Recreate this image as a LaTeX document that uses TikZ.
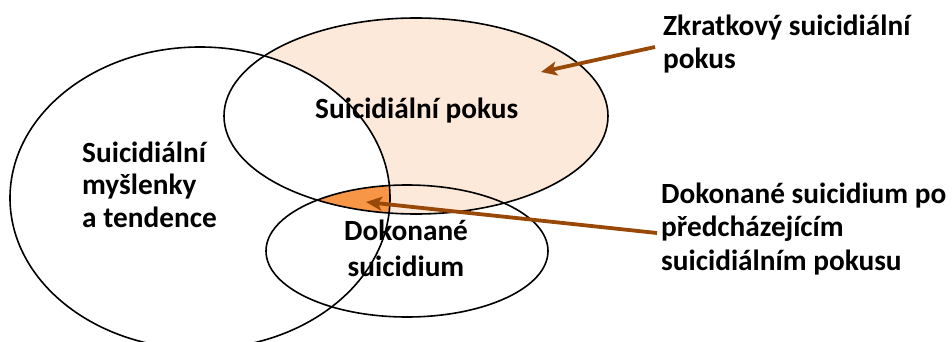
\documentclass[tikz,border=0pt]{standalone}
\usepackage{fontspec}
\setmainfont{Carlito}
\usetikzlibrary{arrows.meta}
\definecolor{peach}{RGB}{253,233,217}
\definecolor{orangefill}{RGB}{247,150,70}
\definecolor{brownarrow}{RGB}{152,72,7}
\tikzset{
  lbl/.style={font=\bfseries\fontsize{29.3}{33.3}\selectfont, inner sep=0pt, align=left, anchor=base west},
  outline/.style={draw=black, line width=1.6pt},
  pointer/.style={draw=brownarrow, line width=3.8pt, -{Stealth[length=16pt,width=14pt,inset=4pt]}}
}
\begin{document}
\begin{tikzpicture}[x=1pt,y=-1pt]
\useasboundingbox (0,0) rectangle (952,342);
% fills
\fill[peach] (416,116) ellipse [x radius=192, y radius=98];
\fill[white] (200,198) ellipse [x radius=190, y radius=151];
\begin{scope}
  \clip (416,116) ellipse [x radius=192, y radius=98];
  \clip (200,198) ellipse [x radius=190, y radius=151];
  \fill[orangefill] (407,251) ellipse [x radius=141, y radius=66];
\end{scope}
% outlines
\path[outline] (200,198) ellipse [x radius=190, y radius=151];
\path[outline] (416,116) ellipse [x radius=192, y radius=98];
\path[outline] (407,251) ellipse [x radius=141, y radius=66];
% labels (anchor base = baseline of the last line)
\node[lbl] (pokus) at (315,118) {Suicidiální pokus};
\node[lbl, font=\bfseries\fontsize{29.3}{32.5}\selectfont] (mysl) at (82,227) {Suicidiální\\myšlenky\\a tendence};
\node[lbl, font=\bfseries\fontsize{29.3}{36}\selectfont, align=center, anchor=base] (dok) at (406,276) {Dokonané\\suicidium};
\node[lbl] (zkr) at (663,69) {Zkratkový suicidiální\\pokus};
\node[lbl] (dokpo) at (661,270) {Dokonané suicidium po\\předcházejícím\\suicidiálním pokusu};
% arrows
\coordinate (zkrstart) at (655,47);
\coordinate (zkrtip) at (541,72);
\coordinate (dokstart) at (657,233);
\coordinate (doktip) at (366,202);
\draw[pointer] (zkrstart) -- (zkrtip);
\draw[pointer] (dokstart) -- (doktip);
\end{tikzpicture}
\end{document}
